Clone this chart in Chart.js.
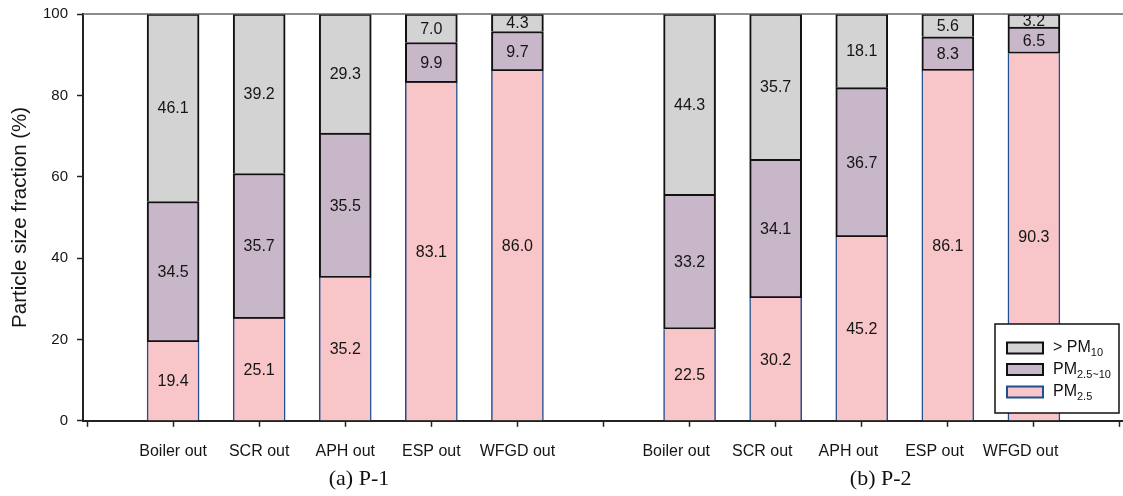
<!DOCTYPE html>
<html><head><meta charset="utf-8">
<script src="https://cdn.jsdelivr.net/npm/chart.js@4.4.1/dist/chart.umd.min.js"></script>
<style>html,body{margin:0;padding:0;background:#fff;} #wrap{position:relative;width:1123px;height:496px;}</style>
</head><body><div id="wrap"><canvas id="c"></canvas></div>
<script>
// ---- data ----
const stages = ['Boiler out', 'SCR out', 'APH out', 'ESP out', 'WFGD out'];
const groupNames = ['(a) P-1', '(b) P-2'];
const pm25_P1     = [19.4, 25.1, 35.2, 83.1, 86.0];
const pm2510_P1   = [34.5, 35.7, 35.5, 9.9, 9.7];
const pmOver10_P1 = [46.1, 39.2, 29.3, 7.0, 4.3];
const pm25_P2     = [22.5, 30.2, 45.2, 86.1, 90.3];
const pm2510_P2   = [33.2, 34.1, 36.7, 8.3, 6.5];
const pmOver10_P2 = [44.3, 35.7, 18.1, 5.6, 3.2];
const yTicks = [0, 20, 40, 60, 80, 100];
const seriesNames = ['PM2.5', 'PM2.5~10', '> PM10'];
const legendMain = ['> PM', 'PM', 'PM'];
const legendSub = ['10', '2.5~10', '2.5'];

// slots: empty gap, group 1 stages, empty gap, group 2 stages, empty gap
const slots = ['', ...stages, '', ...stages, ''];
const groupSlot = g => 1 + g * (stages.length + 1);
function toPoints(a, b) {
  const pts = [];
  a.forEach((v, i) => pts.push({x: groupSlot(0) + i, y: v}));
  b.forEach((v, i) => pts.push({x: groupSlot(1) + i, y: v}));
  return pts;
}

const C_GRAY = '#d3d3d3', C_PURPLE = '#c8b6c9', C_PINK = '#f8c5c8';
const C_BLUE = '#1f4f8f', C_BLACK = '#111111';
const FONT = 'Arial, "Liberation Sans", sans-serif';
const P2_PAD = '      ';

const labelPlugin = {
  id: 'segLabels',
  afterDatasetsDraw(chart) {
    const ctx = chart.ctx;
    ctx.save();
    ctx.font = '16px ' + FONT;
    ctx.fillStyle = '#151515';
    ctx.textAlign = 'center';
    ctx.textBaseline = 'middle';
    chart.data.datasets.forEach((ds, di) => {
      const meta = chart.getDatasetMeta(di);
      meta.data.forEach((el, i) => {
        const v = ds.data[i].y;
        ctx.fillText(v.toFixed(1), el.x, (el.y + el.base) / 2 + 1);
      });
    });
    ctx.restore();
  },
  afterDraw(chart) {
    const ctx = chart.ctx;
    const a = chart.chartArea;
    ctx.save();
    // top frame line
    ctx.strokeStyle = '#666';
    ctx.lineWidth = 1.5;
    ctx.beginPath();
    ctx.moveTo(a.left, a.top);
    ctx.lineTo(a.right, a.top);
    ctx.stroke();
    // captions
    const xs = chart.scales.x;
    ctx.font = '22px "Liberation Serif", "Times New Roman", serif';
    ctx.fillStyle = '#111';
    ctx.textAlign = 'center';
    ctx.textBaseline = 'middle';
    ctx.fillText(groupNames[0], xs.getPixelForValue(groupSlot(0) + 2.16), 479);
    ctx.fillText(groupNames[1], xs.getPixelForValue(groupSlot(1) + 2.22), 479);
    // legend
    const lx = 995, ly = 324, lw = 124, lh = 89;
    ctx.fillStyle = '#fff';
    ctx.fillRect(lx, ly, lw, lh);
    ctx.strokeStyle = '#111';
    ctx.lineWidth = 1.5;
    ctx.strokeRect(lx, ly, lw, lh);
    const order = [2, 1, 0];
    const rowsY = [348, 369.5, 392];
    order.forEach((di, r) => {
      const ds = chart.data.datasets[di];
      const cy = rowsY[r];
      ctx.fillStyle = ds.backgroundColor;
      ctx.fillRect(1007, cy - 5.5, 36, 11);
      ctx.strokeStyle = ds.borderColor;
      ctx.lineWidth = 2;
      ctx.strokeRect(1007, cy - 5.5, 36, 11);
      ctx.fillStyle = '#111';
      ctx.textAlign = 'left';
      ctx.textBaseline = 'middle';
      ctx.font = '16px ' + FONT;
      ctx.fillText(legendMain[r], 1053, cy);
      const w = ctx.measureText(legendMain[r]).width;
      ctx.font = '11px ' + FONT;
      ctx.fillText(legendSub[r], 1053 + w, cy + 5);
    });
    ctx.restore();
  }
};

new Chart(document.getElementById('c'), {
  type: 'bar',
  data: {
    datasets: [
      { label: seriesNames[0], data: toPoints(pm25_P1, pm25_P2), backgroundColor: C_PINK, borderColor: C_BLUE,
        borderWidth: {left: 1.5, right: 1.5, top: 0, bottom: 0}, borderSkipped: false },
      { label: seriesNames[1], data: toPoints(pm2510_P1, pm2510_P2), backgroundColor: C_PURPLE, borderColor: C_BLACK,
        borderWidth: {left: 2, right: 2, top: 2, bottom: 2}, borderSkipped: false },
      { label: seriesNames[2], data: toPoints(pmOver10_P1, pmOver10_P2), backgroundColor: C_GRAY, borderColor: C_BLACK,
        borderWidth: {left: 2, right: 2, top: 2, bottom: 0}, borderSkipped: false }
    ]
  },
  options: {
    responsive: true,
    maintainAspectRatio: false,
    animation: false,
    barThickness: 52,
    layout: { padding: { left: 0, right: 0, top: 14, bottom: 20 } },
    plugins: { legend: { display: false }, tooltip: { enabled: false } },
    scales: {
      x: {
        type: 'linear', stacked: true, offset: false,
        min: -0.0465, max: slots.length - 1 + 0.035,
        afterBuildTicks: s => { s.ticks = slots.map((_, i) => ({ value: i })); },
        afterFit: s => { s.paddingLeft = 0; s.paddingRight = 0; },
        ticks: {
          autoSkip: false, maxRotation: 0, padding: 15,
          font: { size: 16, family: FONT }, color: '#151515',
          callback: v => (slots[v] || '') + (v > groupSlot(1) - 1 && slots[v] ? P2_PAD : '')
        },
        grid: { display: true, offset: false, drawOnChartArea: false, drawTicks: true, tickLength: 6, tickColor: '#222', tickWidth: 1.5 },
        border: { display: true, color: '#222', width: 2 }
      },
      y: {
        stacked: true, min: yTicks[0], max: yTicks[yTicks.length - 1],
        afterFit: s => { s.width = 83; s.paddingTop = 0; s.paddingBottom = 0; },
        afterBuildTicks: s => { s.ticks = yTicks.map(v => ({ value: v })); },
        ticks: { padding: 9, font: { size: 15, family: FONT }, color: '#151515' },
        grid: { display: true, drawOnChartArea: false, drawTicks: true, tickLength: 6, tickColor: '#222', tickWidth: 1.5 },
        border: { display: true, color: '#222', width: 2 },
        title: { display: true, text: 'Particle size fraction (%)', font: { size: 20.5, family: FONT }, color: '#151515', padding: { top: 8, bottom: 0 } }
      }
    }
  },
  plugins: [labelPlugin]
});
</script>
</body></html>
